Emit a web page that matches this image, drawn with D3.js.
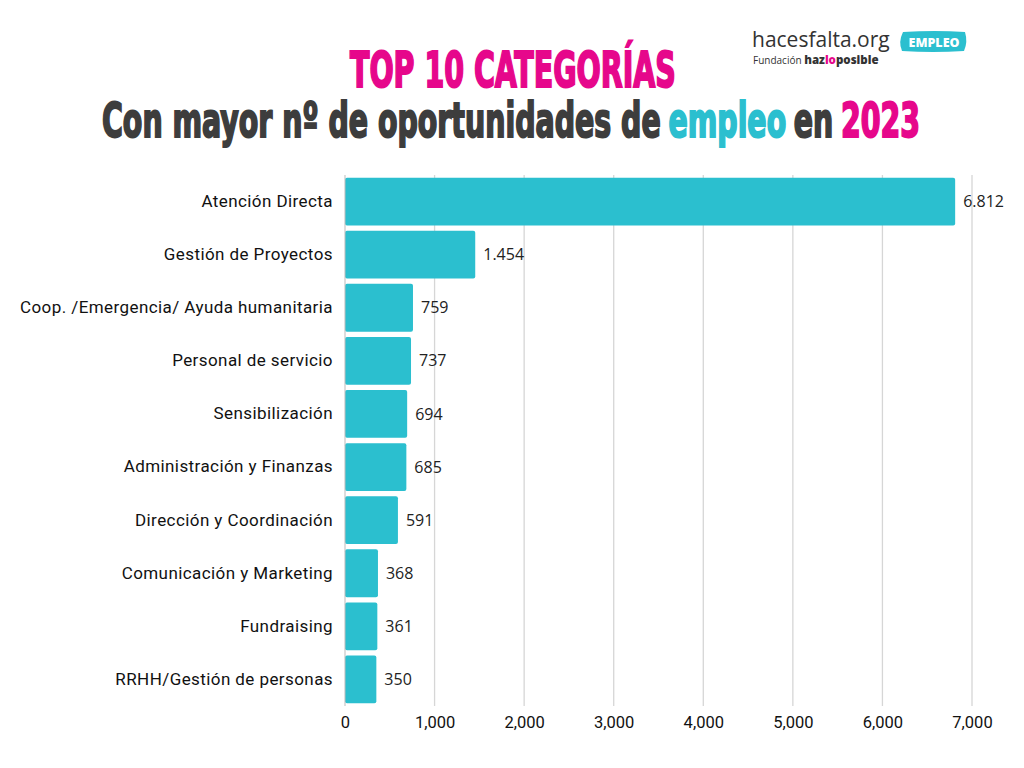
<!DOCTYPE html>
<html>
<head>
<meta charset="utf-8">
<script src="https://cdn.jsdelivr.net/npm/d3@7"></script>
<style>
  body { margin: 0; background: #fff; }
  svg { display: block; }
</style>
</head>
<body>
<script>
// data
const categories = [
  "Atención Directa",
  "Gestión de Proyectos",
  "Coop. /Emergencia/ Ayuda humanitaria",
  "Personal de servicio",
  "Sensibilización",
  "Administración y Finanzas",
  "Dirección y Coordinación",
  "Comunicación y Marketing",
  "Fundraising",
  "RRHH/Gestión de personas"
];
const values = [6812, 1454, 759, 737, 694, 685, 591, 368, 361, 350];
const valueLabels = ["6.812", "1.454", "759", "737", "694", "685", "591", "368", "361", "350"];
const xTicks = [0, 1000, 2000, 3000, 4000, 5000, 6000, 7000];

const W = 1024, H = 768;
const margin = {top: 175, right: 52, bottom: 62, left: 345};
const width = W - margin.left - margin.right,
      height = H - margin.top - margin.bottom;

const pink = "#e6078b", teal = "#2bbfcf";

const svg = d3.select("body").append("svg")
    .attr("width", W)
    .attr("height", H);

// titles - condensed heavy look: pieces laid side by side then squeezed to width
const condensed = "'Liberation Sans Narrow', 'DejaVu Sans Condensed', 'DejaVu Sans', sans-serif";
function titleLine(parts, cx, baseline, size, targetW) {
  const grp = svg.append("g");
  let pos = 0;
  parts.forEach(p => {
    const t = grp.append("text")
        .attr("x", pos).attr("y", 0)
        .style("font-family", condensed).style("font-weight", "bold")
        .style("font-stretch", "condensed")
        .style("font-size", size + "px")
        .style("fill", p.color).style("stroke", p.color).style("stroke-width", 2)
        .text(p.text);
    pos += t.node().getComputedTextLength() + (p.gap ? size * 0.24 : 0);
  });
  const sx = targetW / pos;
  grp.attr("transform", `translate(${cx - targetW / 2},${baseline}) scale(${sx},1)`);
}
titleLine([{text: "TOP 10 CATEGORÍAS", color: pink}], 513, 87, 50, 326);
titleLine([
  {text: "Con mayor nº de oportunidades de", color: "#3d3d3d", gap: true},
  {text: "empleo", color: teal, gap: true},
  {text: "en", color: "#3d3d3d", gap: true},
  {text: "2023", color: pink}
], 511, 137, 48, 818);

// logo
const logo = svg.append("g");
logo.append("text")
    .attr("x", 752).attr("y", 47)
    .style("font-family", "'Open Sans', sans-serif")
    .style("font-size", "21px").style("fill", "#333")
    .text("hacesfalta.org");
const fund = logo.append("text")
    .attr("x", 753).attr("y", 64)
    .style("font-family", "'Open Sans', sans-serif")
    .style("font-size", "10px").style("fill", "#333");
fund.append("tspan").text("Fundación ");
fund.append("tspan").style("font-weight", "900").style("font-size", "11.5px").text("haz");
fund.append("tspan").style("font-weight", "900").style("font-size", "11.5px").style("fill", pink).text("lo");
fund.append("tspan").style("font-weight", "900").style("font-size", "11.5px").text("posible");
logo.append("path")
    .attr("d", "M903,32 Q935,30 965,32 Q968,42 964,51 Q933,53 902,51 Q898,42 903,32 Z")
    .style("fill", teal);
logo.append("text")
    .attr("x", 934).attr("y", 46.5)
    .attr("text-anchor", "middle")
    .style("font-family", "'Open Sans', sans-serif")
    .style("font-weight", "800")
    .style("font-size", "12.5px").style("fill", "#fff")
    .text("EMPLEO");

const g = svg.append("g")
    .attr("transform", `translate(${margin.left},${margin.top})`);

// scales
const x = d3.scaleLinear()
    .domain([0, 7000])
    .range([0, width]);
const y = d3.scaleBand()
    .domain(categories)
    .range([0, height])
    .paddingInner(0.1)
    .paddingOuter(0.05);

// gridlines
g.append("g")
    .selectAll("line")
    .data(xTicks.slice(1))
    .join("line")
    .attr("x1", d => x(d)).attr("x2", d => x(d))
    .attr("y1", 0).attr("y2", height)
    .style("stroke", "#d6d6d6").style("stroke-width", 1.3);

// x axis
const xAxis = g.append("g")
    .attr("transform", `translate(0,${height})`)
    .call(d3.axisBottom(x).tickValues(xTicks).tickFormat(d3.format(",")).tickSize(0).tickPadding(10));
xAxis.select(".domain").remove();
xAxis.selectAll("text")
    .style("font-family", "Roboto, sans-serif")
    .style("font-size", "16.5px").style("fill", "#111");

// bars
g.selectAll("rect.bar")
    .data(values)
    .join("rect")
    .attr("class", "bar")
    .attr("x", 0)
    .attr("y", (d, i) => y(categories[i]))
    .attr("width", d => x(d))
    .attr("height", y.bandwidth())
    .attr("rx", 2)
    .style("fill", teal);

// y axis line and labels
g.append("line")
    .attr("x1", 0).attr("x2", 0)
    .attr("y1", 0).attr("y2", height)
    .style("stroke", "#bbb").style("stroke-width", 1);
g.selectAll("text.cat")
    .data(categories)
    .join("text")
    .attr("class", "cat")
    .attr("x", -12)
    .attr("y", d => y(d) + y.bandwidth() / 2)
    .attr("dy", "0.32em")
    .attr("text-anchor", "end")
    .style("font-family", "Roboto, sans-serif")
    .style("font-size", "17px").style("letter-spacing", "0.42px")
    .style("fill", "#111")
    .text(d => d);

// value labels
g.selectAll("text.val")
    .data(values)
    .join("text")
    .attr("class", "val")
    .attr("x", d => x(d) + 8)
    .attr("y", (d, i) => y(categories[i]) + y.bandwidth() / 2)
    .attr("dy", "0.35em")
    .style("font-family", "'Open Sans', sans-serif")
    .style("font-size", "16px").style("fill", "#222")
    .text((d, i) => valueLabels[i]);
</script>
</body>
</html>
